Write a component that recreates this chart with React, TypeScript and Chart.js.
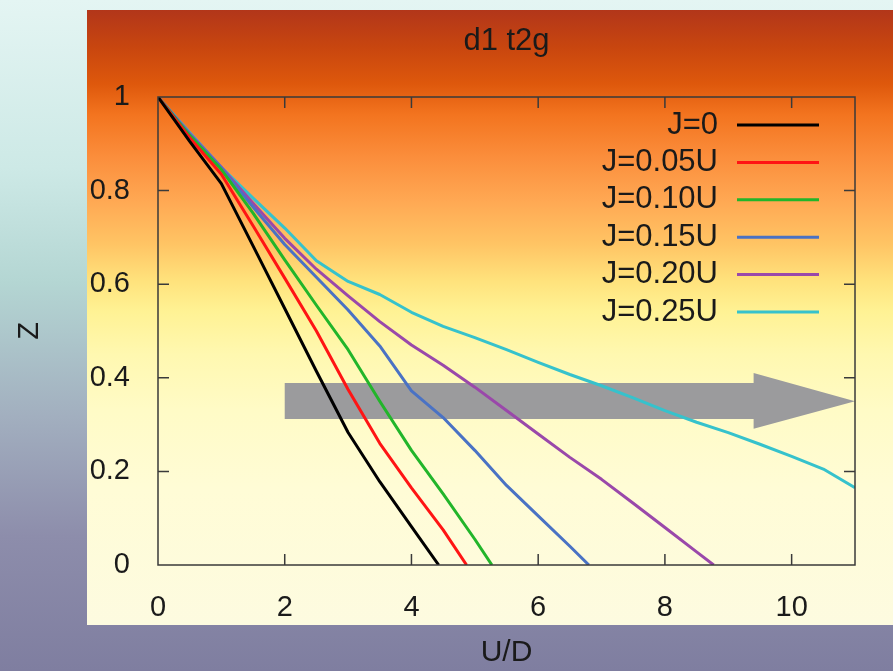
import React, { useEffect, useRef } from 'react';
import { Chart, registerables } from 'chart.js';

Chart.register(...registerables);

const chartTitle = 'd1 t2g';
const xTitle = 'U/D';
const yTitle = 'Z';
const xTicks = [0, 2, 4, 6, 8, 10];
const yTicks = [0, 0.2, 0.4, 0.6, 0.8, 1];
const xMin = 0;
const xMax = 11;

const seriesLabels = ['J=0', 'J=0.05U', 'J=0.10U', 'J=0.15U', 'J=0.20U', 'J=0.25U'];
const seriesColors = ['#000000', '#ff1414', '#22b52a', '#4a72c4', '#9a48aa', '#36c2cc'];

const uJ0 = [0, 0.5, 1, 1.5, 2, 2.5, 3, 3.5, 4, 4.43];
const zJ0 = [1, 0.905, 0.815, 0.682, 0.548, 0.414, 0.283, 0.178, 0.082, 0];

const uJ005 = [0, 0.5, 1, 1.5, 2, 2.5, 3, 3.5, 4, 4.5, 4.87];
const zJ005 = [1, 0.913, 0.835, 0.725, 0.613, 0.5, 0.375, 0.26, 0.165, 0.075, 0];

const uJ010 = [0, 0.5, 1, 1.5, 2, 2.5, 3, 3.5, 4, 4.5, 5, 5.27];
const zJ010 = [1, 0.918, 0.845, 0.752, 0.652, 0.555, 0.46, 0.35, 0.245, 0.152, 0.055, 0];

const uJ015 = [0, 0.5, 1, 1.5, 2, 2.5, 3, 3.5, 4, 4.5, 5, 5.5, 6, 6.5, 6.8];
const zJ015 = [1, 0.92, 0.848, 0.765, 0.685, 0.615, 0.545, 0.468, 0.372, 0.315, 0.245, 0.17, 0.105, 0.04, 0];

const uJ020 = [0, 0.5, 1, 1.5, 2, 2.5, 3, 3.5, 4, 4.5, 5, 5.5, 6, 6.5, 7, 7.5, 8, 8.5, 8.77];
const zJ020 = [1, 0.922, 0.85, 0.773, 0.698, 0.632, 0.575, 0.52, 0.47, 0.427, 0.38, 0.33, 0.28, 0.23, 0.183, 0.132, 0.08, 0.028, 0];

const uJ025 = [0, 0.5, 1, 1.5, 2, 2.5, 3, 3.5, 4, 4.5, 5, 5.5, 6, 6.5, 7, 7.5, 8, 8.5, 9, 9.5, 10, 10.5, 11];
const zJ025 = [1, 0.924, 0.85, 0.784, 0.72, 0.65, 0.606, 0.578, 0.54, 0.51, 0.486, 0.46, 0.433, 0.407, 0.383, 0.357, 0.33, 0.305, 0.283, 0.258, 0.232, 0.205, 0.165];

const seriesU = [uJ0, uJ005, uJ010, uJ015, uJ020, uJ025];
const seriesZ = [zJ0, zJ005, zJ010, zJ015, zJ020, zJ025];

// gray arrow annotation in data units
const arrowStartU = 2;
const arrowHeadU = 9.4;
const arrowTipU = 11;
const arrowBodyTopZ = 0.389;
const arrowBodyBottomZ = 0.312;
const arrowHeadTopZ = 0.41;
const arrowHeadBottomZ = 0.291;
const arrowTipZ = 0.35;

const FONT = '"Liberation Sans", Arial, Helvetica, sans-serif';

const arrowPlugin = {
  id: 'grayArrow',
  beforeDatasetsDraw(chart: any) {
    const { ctx, scales } = chart;
    const xs = scales.x;
    const ys = scales.y;
    ctx.save();
    ctx.fillStyle = '#9b9b9d';
    ctx.beginPath();
    ctx.moveTo(xs.getPixelForValue(arrowStartU), ys.getPixelForValue(arrowBodyTopZ));
    ctx.lineTo(xs.getPixelForValue(arrowHeadU), ys.getPixelForValue(arrowBodyTopZ));
    ctx.lineTo(xs.getPixelForValue(arrowHeadU), ys.getPixelForValue(arrowHeadTopZ));
    ctx.lineTo(xs.getPixelForValue(arrowTipU), ys.getPixelForValue(arrowTipZ));
    ctx.lineTo(xs.getPixelForValue(arrowHeadU), ys.getPixelForValue(arrowHeadBottomZ));
    ctx.lineTo(xs.getPixelForValue(arrowHeadU), ys.getPixelForValue(arrowBodyBottomZ));
    ctx.lineTo(xs.getPixelForValue(arrowStartU), ys.getPixelForValue(arrowBodyBottomZ));
    ctx.closePath();
    ctx.fill();
    ctx.restore();
  },
};

const framePlugin = {
  id: 'gnuFrame',
  afterDatasetsDraw(chart: any) {
    const { ctx, chartArea, scales } = chart;
    const { left, right, top, bottom } = chartArea;
    const tl = 11;
    ctx.save();
    ctx.strokeStyle = '#3a3a3a';
    ctx.lineWidth = 1.5;
    ctx.strokeRect(left, top, right - left, bottom - top);
    ctx.beginPath();
    xTicks.forEach((v) => {
      const px = scales.x.getPixelForValue(v);
      if (v === xMin) return;
      ctx.moveTo(px, bottom);
      ctx.lineTo(px, bottom - tl);
      ctx.moveTo(px, top);
      ctx.lineTo(px, top + tl);
    });
    yTicks.forEach((v) => {
      const py = scales.y.getPixelForValue(v);
      if (v === 0 || v === 1) return;
      ctx.moveTo(left, py);
      ctx.lineTo(left + tl, py);
      ctx.moveTo(right, py);
      ctx.lineTo(right - tl, py);
    });
    ctx.stroke();
    ctx.restore();
  },
};

const titlePlugin = {
  id: 'gnuTitle',
  afterDraw(chart: any) {
    const { ctx, chartArea } = chart;
    ctx.save();
    ctx.font = `31px ${FONT}`;
    ctx.fillStyle = '#1a1a1a';
    ctx.textAlign = 'center';
    ctx.textBaseline = 'middle';
    ctx.fillText(chartTitle, (chartArea.left + chartArea.right) / 2, chartArea.top - 56);
    ctx.restore();
  },
};

const legendPlugin = {
  id: 'gnuLegend',
  afterDatasetsDraw(chart: any) {
    const { ctx, chartArea } = chart;
    const textRight = chartArea.right - 137;
    const lineStart = chartArea.right - 118;
    const lineEnd = chartArea.right - 36;
    const y0 = chartArea.top + 28;
    const dy = 37.4;
    ctx.save();
    ctx.font = `31px ${FONT}`;
    ctx.textAlign = 'right';
    ctx.textBaseline = 'middle';
    chart.data.datasets.forEach((ds: any, i: number) => {
      const y = y0 + i * dy;
      ctx.fillStyle = '#1a1a1a';
      ctx.fillText(ds.label, textRight, y);
      ctx.strokeStyle = ds.borderColor;
      ctx.lineWidth = 3;
      ctx.beginPath();
      ctx.moveTo(lineStart, y);
      ctx.lineTo(lineEnd, y);
      ctx.stroke();
    });
    ctx.restore();
  },
};

export default function App() {
  const canvasRef = useRef<HTMLCanvasElement | null>(null);

  useEffect(() => {
    const canvas = canvasRef.current;
    if (!canvas) return;
    const datasets = seriesLabels.map((label, i) => ({
      label,
      data: seriesU[i].map((u, j) => ({ x: u, y: seriesZ[i][j] })),
      borderColor: seriesColors[i],
      backgroundColor: seriesColors[i],
      borderWidth: 3,
      pointRadius: 0,
      tension: 0,
      fill: false,
      borderJoinStyle: 'round',
    }));
    const chart = new Chart(canvas, {
      type: 'line',
      data: { datasets },
      plugins: [arrowPlugin, framePlugin, legendPlugin, titlePlugin],
      options: {
        animation: false,
        responsive: false,
        devicePixelRatio: 1,
        layout: { padding: { left: 0, right: 38, top: 97, bottom: 0 } },
        plugins: {
          legend: { display: false },
          tooltip: { enabled: false },
          title: { display: false },
        },
        scales: {
          x: {
            type: 'linear',
            min: xMin,
            max: xMax,
            afterFit: (s: any) => {
              s.height = 106;
            },
            afterBuildTicks: (s: any) => {
              s.ticks = xTicks.map((v) => ({ value: v }));
            },
            grid: { display: false },
            border: { display: false },
            ticks: {
              autoSkip: false,
              padding: 18,
              color: '#1a1a1a',
              font: { family: FONT, size: 29 },
              callback: (v: any) => String(v),
            },
            title: {
              display: true,
              text: xTitle,
              color: '#1a1a1a',
              font: { family: FONT, size: 30 },
              padding: { top: 0, bottom: 0 },
            },
          },
          y: {
            type: 'linear',
            min: 0,
            max: 1,
            afterFit: (s: any) => {
              s.width = 158;
            },
            afterBuildTicks: (s: any) => {
              s.ticks = yTicks.map((v) => ({ value: v }));
            },
            grid: { display: false },
            border: { display: false },
            ticks: {
              autoSkip: false,
              padding: 20,
              color: '#1a1a1a',
              font: { family: FONT, size: 29 },
              callback: (v: any) => String(v),
            },
            title: {
              display: true,
              text: yTitle,
              color: '#1a1a1a',
              font: { family: FONT, size: 29 },
              padding: { top: 12.6, bottom: 0 },
            },
          },
        },
      } as any,
    });
    return () => chart.destroy();
  }, []);

  return (
    <div
      style={{
        position: 'fixed',
        left: 0,
        top: 0,
        width: 893,
        height: 671,
        overflow: 'hidden',
        background:
          'linear-gradient(to bottom, #e4f5f3 0%, #cde9e6 25%, #b4d6d3 42%, #a2afbf 62%, #8d8dab 80%, #7f7ea0 100%)',
      }}
    >
      <div
        style={{
          position: 'absolute',
          left: 87,
          top: 10,
          width: 806,
          height: 615,
          background:
            'linear-gradient(to bottom, #b2361a 0%, #c8460f 6%, #de580c 12%, #f3741f 17%, #fb8e3c 24%, #ffa853 31%, #ffc464 38%, #ffe27c 44%, #fff294 49%, #fff8b0 56%, #fffbc6 65%, #fffcd6 78%, #fdfbe0 100%)',
        }}
      />
      <canvas
        ref={canvasRef}
        width={893}
        height={671}
        style={{ position: 'absolute', left: 0, top: 0, width: 893, height: 671 }}
      />
    </div>
  );
}
